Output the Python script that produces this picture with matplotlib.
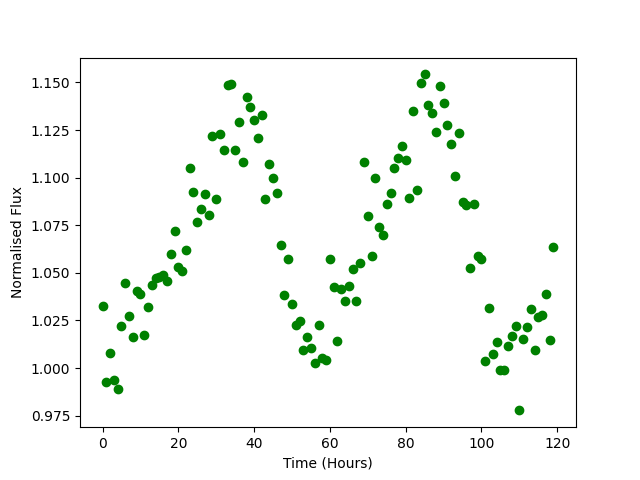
import numpy as np
import matplotlib
matplotlib.use('Agg')
import matplotlib.pyplot as plt

# hourly samples, 0..119
time_hours = np.arange(120)
flux = [
    1.0327, 0.9927, 1.0081, 0.9939, 0.9890, 1.0223, 1.0449, 1.0276, 1.0164, 1.0407,
    1.0390, 1.0174, 1.0323, 1.0435, 1.0474, 1.0479, 1.0487, 1.0456, 1.0600, 1.0721,
    1.0531, 1.0510, 1.0621, 1.1052, 1.0926, 1.0768, 1.0836, 1.0915, 1.0806, 1.1220,
    1.0890, 1.1230, 1.1143, 1.1486, 1.1489, 1.1143, 1.1290, 1.1083, 1.1425, 1.1372,
    1.1304, 1.1206, 1.1330, 1.0890, 1.1073, 1.0999, 1.0920, 1.0647, 1.0384, 1.0574,
    1.0335, 1.0225, 1.0249, 1.0095, 1.0164, 1.0106, 1.0027, 1.0227, 1.0055, 1.0041,
    1.0574, 1.0426, 1.0143, 1.0417, 1.0353, 1.0432, 1.0521, 1.0353, 1.0554, 1.1083,
    1.0801, 1.0589, 1.0999, 1.0743, 1.0700, 1.0859, 1.0920, 1.1052, 1.1104, 1.1166,
    1.1094, 1.0894, 1.1351, 1.0936, 1.1498, 1.1542, 1.1383, 1.1341, 1.1241, 1.1483,
    1.1393, 1.1278, 1.1178, 1.1010, 1.1236, 1.0874, 1.0857, 1.0527, 1.0860, 1.0590,
    1.0574, 1.0039, 1.0317, 1.0072, 1.0139, 0.9992, 0.9992, 1.0118, 1.0170, 1.0223,
    0.9778, 1.0154, 1.0217, 1.0308, 1.0097, 1.0266, 1.0277, 1.0391, 1.0149, 1.0637,
]

fig, ax = plt.subplots(figsize=(6.4, 4.8), dpi=100)
ax.plot(time_hours, flux, 'go')
ax.set_xlabel('Time (Hours)')
ax.set_ylabel('Normalised Flux')
plt.savefig('out.png')
